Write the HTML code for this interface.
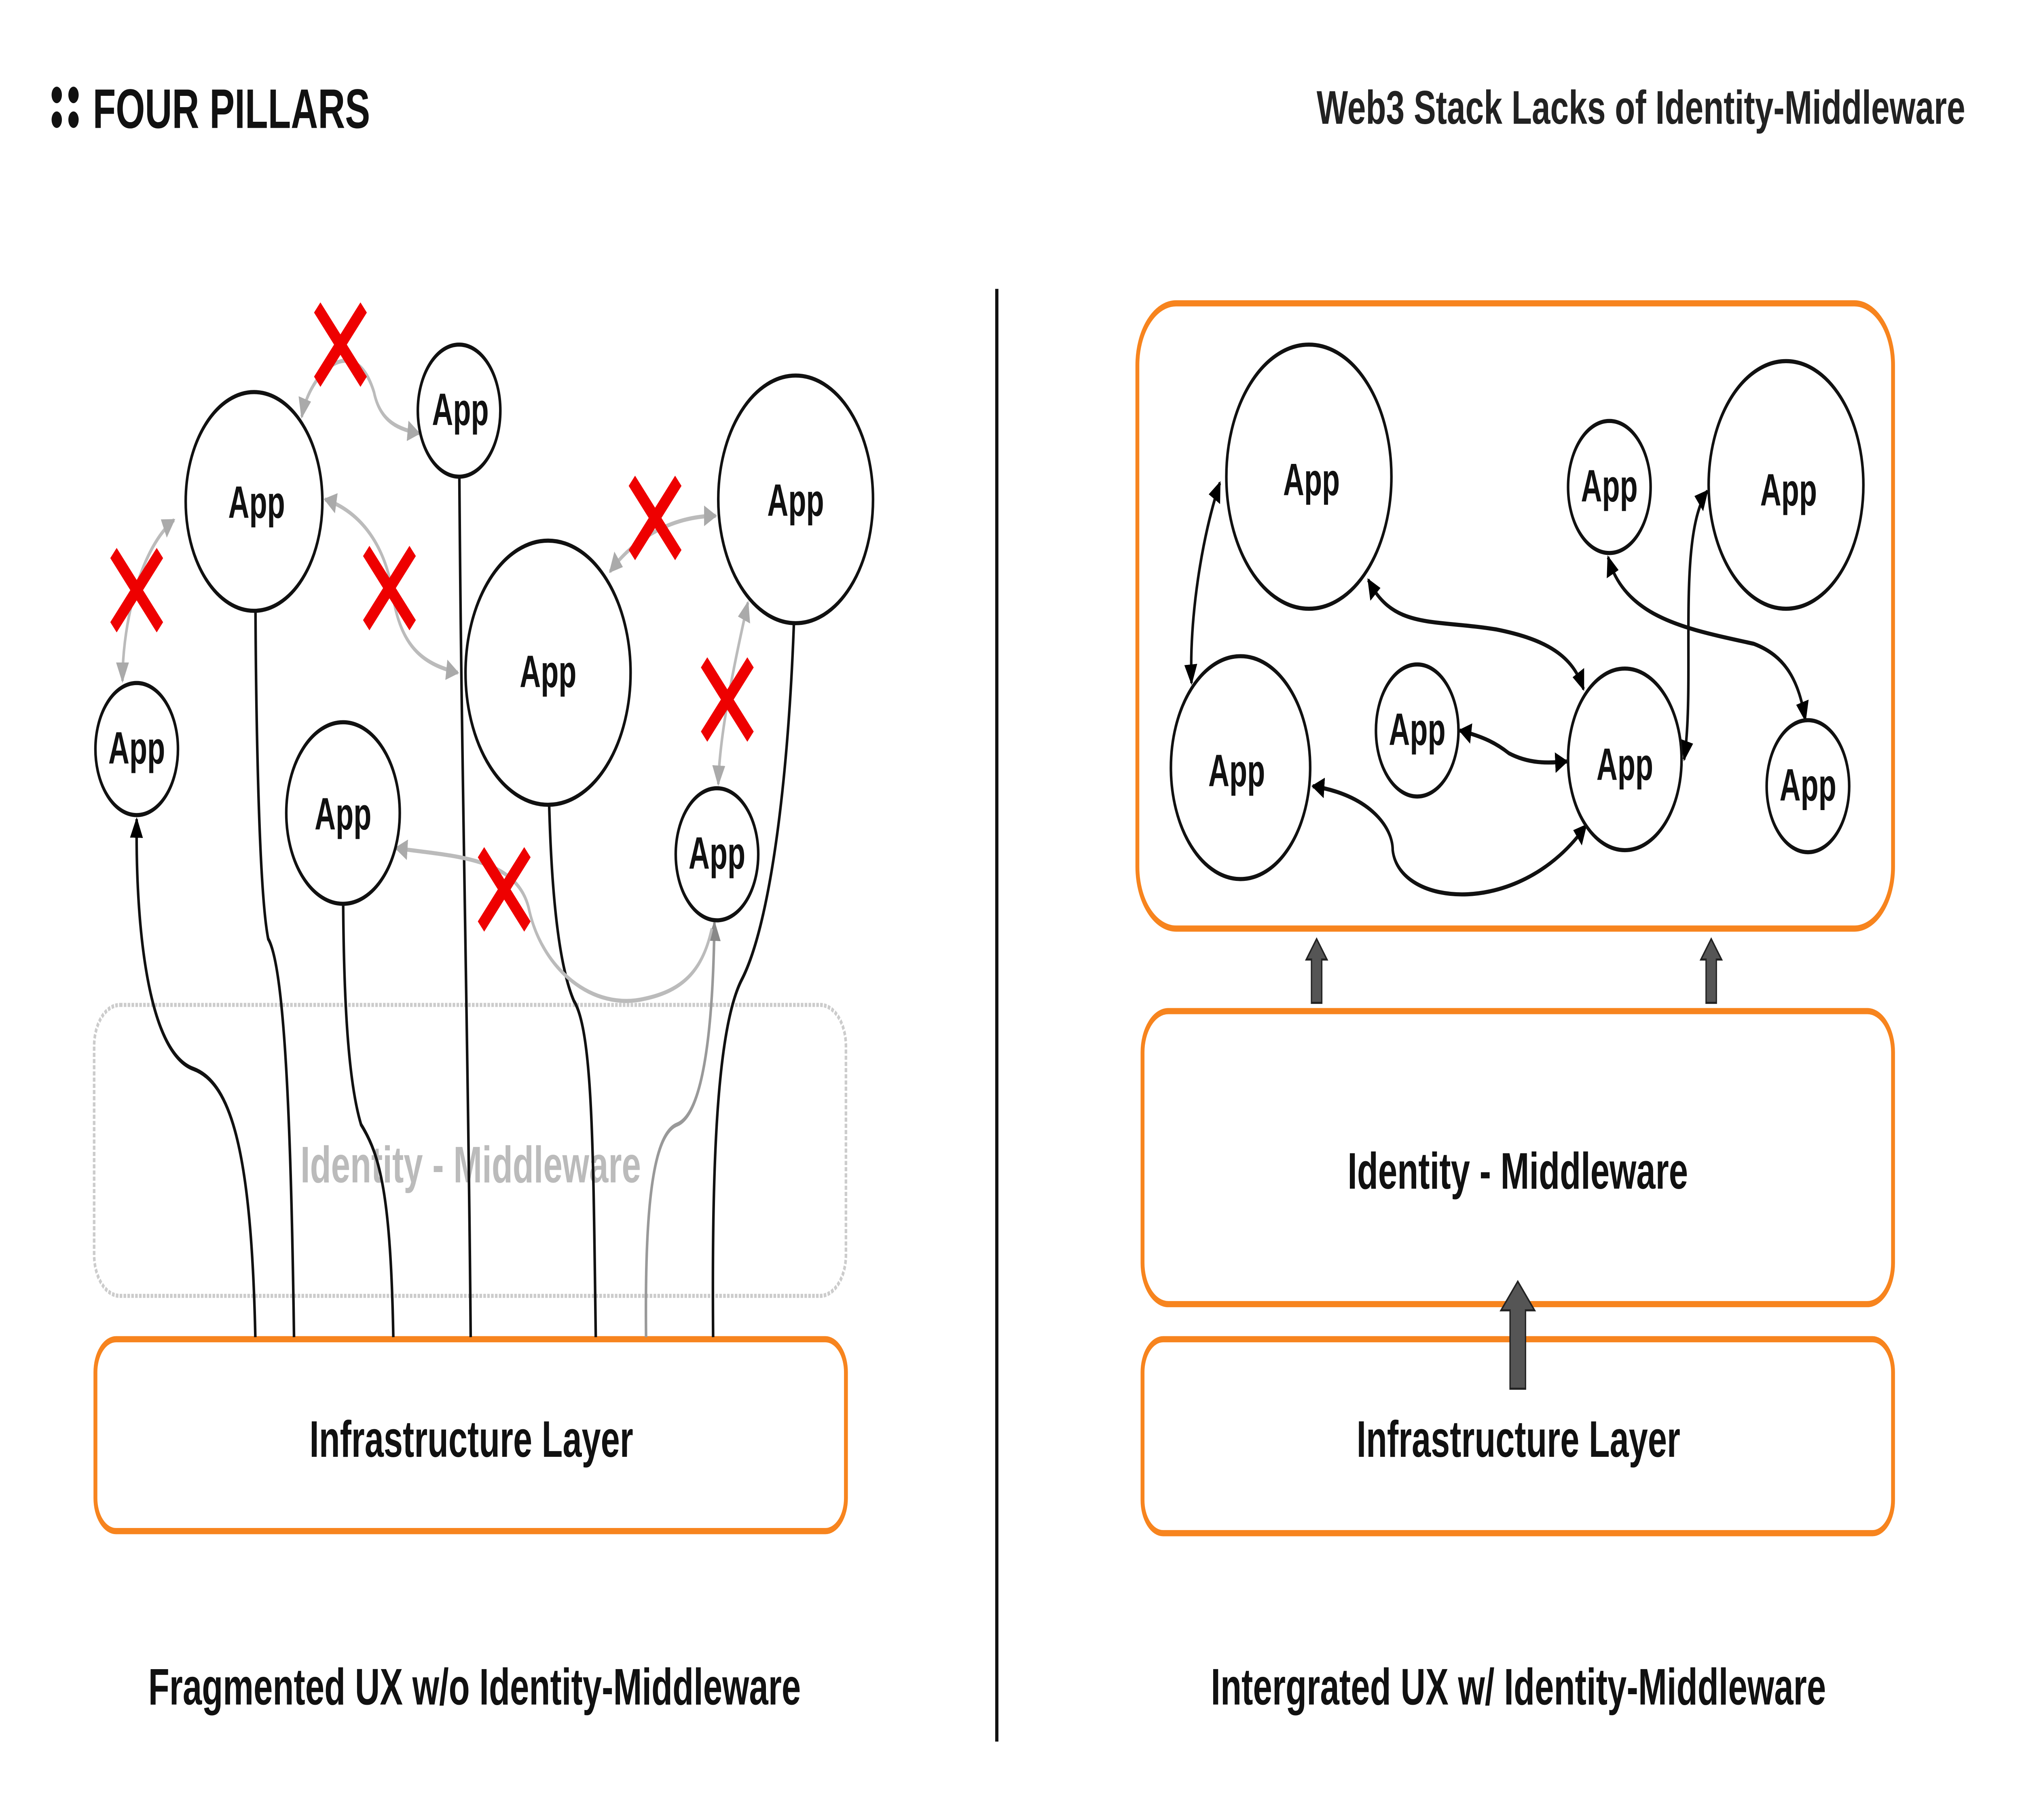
<!DOCTYPE html>
<html><head><meta charset="utf-8"><style>
html,body{margin:0;padding:0;background:#fff;width:100%;height:100%;overflow:hidden;}
svg{display:block;position:fixed;left:0;top:0;width:100vw;height:100vh;}
text{font-family:"Liberation Sans",sans-serif;font-weight:bold;}
</style></head><body>
<svg viewBox="0 0 1568 882" preserveAspectRatio="none" xmlns="http://www.w3.org/2000/svg">
<defs>
<marker id="ab" viewBox="0 0 10 10" refX="9" refY="5" markerWidth="5" markerHeight="5" orient="auto-start-reverse"><path d="M0,0L10,5L0,10z" fill="#000"/></marker>
<marker id="ag" viewBox="0 0 10 10" refX="9" refY="5" markerWidth="5" markerHeight="5" orient="auto-start-reverse"><path d="M0,0L10,5L0,10z" fill="#aaa"/></marker>
<marker id="ag2" viewBox="0 0 10 10" refX="9" refY="5" markerWidth="5" markerHeight="5" orient="auto-start-reverse"><path d="M0,0L10,5L0,10z" fill="#888"/></marker>
</defs>
<rect width="1568" height="882" fill="#fff"/>
<circle cx="44" cy="46" r="4" fill="#111"/><circle cx="57" cy="46" r="4" fill="#111"/>
<circle cx="44" cy="58" r="4" fill="#111"/><circle cx="57" cy="58" r="4" fill="#111"/>
<text x="72" y="62" font-size="27" fill="#111" textLength="215" lengthAdjust="spacingAndGlyphs">FOUR PILLARS</text>
<text x="1021" y="60" font-size="23" fill="#222" textLength="503" lengthAdjust="spacingAndGlyphs">Web3 Stack Lacks of Identity-Middleware</text>
<line x1="773" y1="140" x2="773" y2="844" stroke="#111" stroke-width="2.5"/>

<rect x="73" y="487" width="583" height="141" rx="20" fill="none" stroke="#ccc" stroke-width="2" stroke-dasharray="2,1"/>
<text x="233" y="573" font-size="25" fill="#bbb" textLength="264" lengthAdjust="spacingAndGlyphs">Identity - Middleware</text>
<rect x="74" y="649" width="582" height="93" rx="16" fill="none" stroke="#f7841e" stroke-width="3"/>
<text x="240" y="706" font-size="25" fill="#111" textLength="251" lengthAdjust="spacingAndGlyphs">Infrastructure Layer</text>
<text x="115" y="826" font-size="25" fill="#111" textLength="506" lengthAdjust="spacingAndGlyphs">Fragmented UX w/o Identity-Middleware</text>

<g fill="none" stroke="#111" stroke-width="2">
<path d="M198,648 C195,560 180,525 150,518 C115,510 105,450 106,397" marker-end="url(#ab)"/>
<path d="M228,648 C226,560 222,470 208,455 C200,430 198,330 198,268" marker-end="url(#ab)"/>
<path d="M305,648 C303,580 295,560 280,545 C268,520 266,470 266,418" marker-end="url(#ab)"/>
<path d="M365,648 C363,500 357,350 356,206" marker-end="url(#ab)"/>
<path d="M462,648 C460,560 460,500 445,485 C428,460 425,400 425,347" marker-end="url(#ab)"/>
<path d="M553,648 C552,570 555,500 575,475 C600,445 615,360 617,268" marker-end="url(#ab)"/>
</g>
<g fill="none" stroke="#999" stroke-width="2">
<path d="M501,648 C500,590 505,550 525,545 C545,540 553,500 554,447" marker-end="url(#ag2)"/>
</g>
<g fill="none" stroke="#bbb" stroke-width="2">
<path d="M95,330 C95,300 110,265 135,252" marker-start="url(#ag)" marker-end="url(#ag)"/>
<path d="M234,202 C240,180 275,160 290,190 C295,205 310,208 325,210" marker-start="url(#ag)" marker-end="url(#ag)"/>
<path d="M252,242 C280,248 300,265 305,290 C312,315 330,322 355,326" marker-start="url(#ag)" marker-end="url(#ag)"/>
<path d="M473,277 C490,262 520,250 555,250" marker-start="url(#ag)" marker-end="url(#ag)"/>
<path d="M557,380 C558,355 570,320 580,292" marker-start="url(#ag)" marker-end="url(#ag)"/>
<path d="M307,411 C350,415 400,415 410,440 C420,470 460,490 500,484 C530,480 545,470 552,450" marker-start="url(#ag)"/>
</g>
<g fill="#fff" stroke="#111" stroke-width="2">
<circle cx="106" cy="363" r="32"/><circle cx="197" cy="243" r="53"/><circle cx="356" cy="199" r="32"/>
<circle cx="266" cy="394" r="44"/><circle cx="425" cy="326" r="64"/><circle cx="556" cy="414" r="32"/>
<circle cx="617" cy="242" r="60"/>
</g>
<g font-size="22" fill="#111" text-anchor="middle">
<text x="106" y="370" textLength="44" lengthAdjust="spacingAndGlyphs">App</text><text x="199" y="251" textLength="44" lengthAdjust="spacingAndGlyphs">App</text><text x="357" y="206" textLength="44" lengthAdjust="spacingAndGlyphs">App</text>
<text x="266" y="402" textLength="44" lengthAdjust="spacingAndGlyphs">App</text><text x="425" y="333" textLength="44" lengthAdjust="spacingAndGlyphs">App</text><text x="556" y="421" textLength="44" lengthAdjust="spacingAndGlyphs">App</text>
<text x="617" y="250" textLength="44" lengthAdjust="spacingAndGlyphs">App</text>
</g>
<g stroke="#e00" stroke-width="7">
<path d="M88,268L124,304M124,268L88,304"/>
<path d="M246,149L282,185M282,149L246,185"/>
<path d="M284,267L320,303M320,267L284,303"/>
<path d="M490,233L526,269M526,233L490,269"/>
<path d="M546,321L582,357M582,321L546,357"/>
<path d="M373,413L409,449M409,413L373,449"/>
</g>

<rect x="882" y="147" width="586" height="303" rx="30" fill="none" stroke="#f7841e" stroke-width="3"/>
<rect x="886" y="490" width="582" height="142" rx="20" fill="none" stroke="#f7841e" stroke-width="3"/>
<text x="1045" y="576" font-size="25" fill="#111" textLength="264" lengthAdjust="spacingAndGlyphs">Identity - Middleware</text>
<rect x="886" y="649" width="582" height="94" rx="16" fill="none" stroke="#f7841e" stroke-width="3"/>
<text x="1052" y="706" font-size="25" fill="#111" textLength="251" lengthAdjust="spacingAndGlyphs">Infrastructure Layer</text>
<text x="939" y="826" font-size="25" fill="#111" textLength="477" lengthAdjust="spacingAndGlyphs">Intergrated UX w/ Identity-Middleware</text>
<g fill="#555" stroke="#222" stroke-width="1">
<path d="M1017,486V465H1013L1021,455L1029,465H1025V486Z"/>
<path d="M1323,486V465H1319L1327,455L1335,465H1331V486Z"/>
<path d="M1171,673V635H1164L1177,621L1190,635H1183V673Z"/>
</g>
<g fill="none" stroke="#111" stroke-width="2">
<path d="M946,234 C932,260 922,300 924,331" marker-start="url(#ab)" marker-end="url(#ab)"/>
<path d="M1061,281 C1080,305 1110,300 1160,305 C1200,310 1220,318 1228,334" marker-start="url(#ab)" marker-end="url(#ab)"/>
<path d="M1132,354 C1150,357 1160,360 1170,365 C1185,370 1200,370 1215,369" marker-start="url(#ab)" marker-end="url(#ab)"/>
<path d="M1018,381 C1060,385 1080,400 1080,412 C1085,440 1180,445 1230,400" marker-start="url(#ab)" marker-end="url(#ab)"/>
<path d="M1306,368 C1315,330 1300,260 1324,238" marker-start="url(#ab)" marker-end="url(#ab)"/>
<path d="M1247,270 C1260,300 1310,305 1360,312 C1385,318 1395,330 1400,349" marker-start="url(#ab)" marker-end="url(#ab)"/>
</g>
<g fill="#fff" stroke="#111" stroke-width="2">
<circle cx="1015" cy="231" r="64"/><circle cx="1248" cy="236" r="32"/><circle cx="1385" cy="235" r="60"/>
<circle cx="962" cy="372" r="54"/><circle cx="1099" cy="354" r="32"/><circle cx="1260" cy="368" r="44"/>
<circle cx="1402" cy="381" r="32"/>
</g>
<g font-size="22" fill="#111" text-anchor="middle">
<text x="1017" y="240" textLength="44" lengthAdjust="spacingAndGlyphs">App</text><text x="1248" y="243" textLength="44" lengthAdjust="spacingAndGlyphs">App</text><text x="1387" y="245" textLength="44" lengthAdjust="spacingAndGlyphs">App</text>
<text x="959" y="381" textLength="44" lengthAdjust="spacingAndGlyphs">App</text><text x="1099" y="361" textLength="44" lengthAdjust="spacingAndGlyphs">App</text><text x="1260" y="378" textLength="44" lengthAdjust="spacingAndGlyphs">App</text>
<text x="1402" y="388" textLength="44" lengthAdjust="spacingAndGlyphs">App</text>
</g>
</svg>
</body></html>
